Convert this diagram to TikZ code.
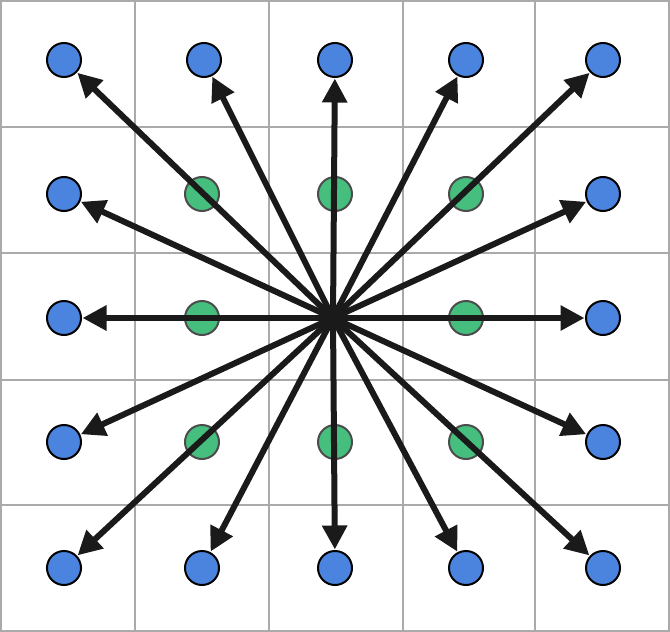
\documentclass[tikz,border=0pt]{standalone}
\usetikzlibrary{arrows.meta}
\definecolor{gridgray}{HTML}{AAAAAD}
\definecolor{dotblue}{HTML}{4A84DE}
\definecolor{dotgreen}{HTML}{45BE7E}
\definecolor{arrowblack}{HTML}{1A1A1A}
\tikzset{
  gridline/.style={draw=gridgray,line width=2pt},
  bluedot/.style={circle,draw=black,fill=dotblue,line width=2pt,minimum size=34pt,inner sep=0pt},
  greendot/.style={circle,draw=black!70,fill=dotgreen,line width=2pt,minimum size=34pt,inner sep=0pt},
  centerdot/.style={circle,fill=arrowblack,minimum size=26pt,inner sep=0pt},
  arr/.style={draw=arrowblack,line width=6pt,-{Triangle[length=24pt,width=24pt]},shorten >=0.5pt}
}
\begin{document}
\begin{tikzpicture}[x=1pt,y=-1pt]
\useasboundingbox (0,0) rectangle (670,632);
\fill[white] (0,0) rectangle (670,632);
% grid
\foreach \x in {1,135,269,403,535,669} \draw[gridline] (\x,0) -- (\x,632);
\foreach \y in {1,127,253,380,505,631} \draw[gridline] (0,\y) -- (670,\y);
% green dots (inner ring)
\node[greendot] (g11) at (202,194) {};
\node[greendot] (g12) at (335,194) {};
\node[greendot] (g13) at (466,194) {};
\node[greendot] (g21) at (202,318) {};
\node[greendot] (g23) at (466,318) {};
\node[greendot] (g31) at (202,442) {};
\node[greendot] (g32) at (335,442) {};
\node[greendot] (g33) at (466,442) {};
% blue dots (outer ring)
\node[bluedot] (b00) at (64,60) {};
\node[bluedot] (b01) at (204,60) {};
\node[bluedot] (b02) at (335,60) {};
\node[bluedot] (b03) at (466,60) {};
\node[bluedot] (b04) at (603,60) {};
\node[bluedot] (b10) at (64,194) {};
\node[bluedot] (b14) at (603,194) {};
\node[bluedot] (b20) at (64,318) {};
\node[bluedot] (b24) at (603,318) {};
\node[bluedot] (b30) at (64,442) {};
\node[bluedot] (b34) at (603,442) {};
\node[bluedot] (b40) at (64,568) {};
\node[bluedot] (b41) at (202,568) {};
\node[bluedot] (b42) at (335,568) {};
\node[bluedot] (b43) at (466,568) {};
\node[bluedot] (b44) at (603,568) {};
% centre
\node[centerdot] (c) at (333,318) {};
\foreach \t in {b00,b01,b02,b03,b04,b10,b14,b20,b24,b30,b34,b40,b41,b42,b43,b44}
  \draw[arr] (c.center) -- (\t);
\end{tikzpicture}
\end{document}
